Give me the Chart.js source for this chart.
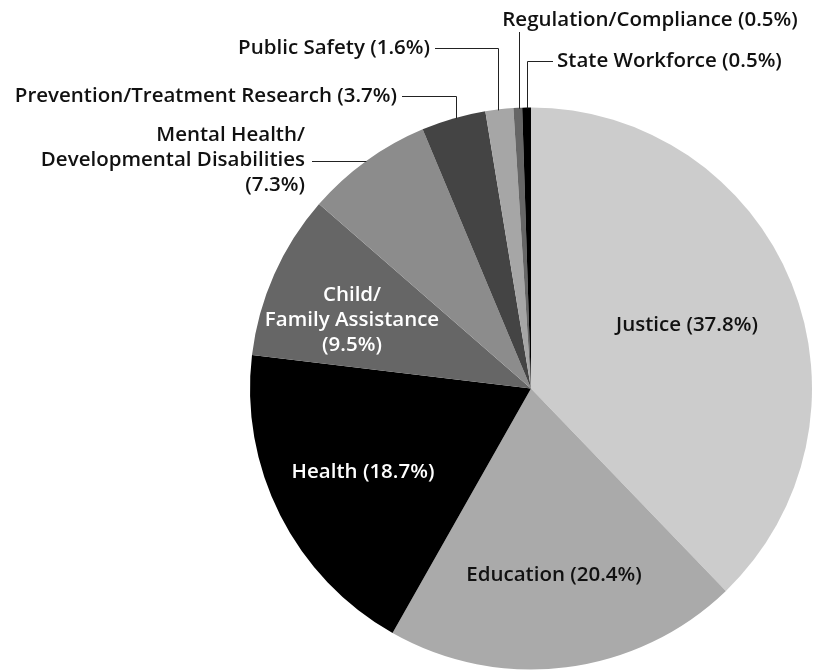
<!DOCTYPE html>
<html>
<head>
<meta charset="utf-8">
<script src="https://cdn.jsdelivr.net/npm/chart.js@4.4.0/dist/chart.umd.min.js"></script>
<style>
  html, body { margin: 0; padding: 0; background: #ffffff; }
  #wrap { width: 820px; height: 670px; position: relative; }
</style>
</head>
<body>
<div id="wrap"><canvas id="c" width="820" height="670"></canvas></div>
<script>
// ---- data ----
const categories = [
  'Justice', 'Education', 'Health', 'Child/Family Assistance',
  'Mental Health/Developmental Disabilities', 'Prevention/Treatment Research',
  'Public Safety', 'Regulation/Compliance', 'State Workforce'
];
const shares = [37.8, 20.4, 18.7, 9.5, 7.3, 3.7, 1.6, 0.5, 0.5];
const sliceColors = ['#cccccc', '#aaaaaa', '#000000', '#666666', '#8c8c8c', '#444444', '#a6a6a6', '#666666', '#000000'];
const labelLines = [
  ['Justice (37.8%)'],
  ['Education (20.4%)'],
  ['Health (18.7%)'],
  ['Child/', 'Family Assistance', '(9.5%)'],
  ['Mental Health/', 'Developmental Disabilities', '(7.3%)'],
  ['Prevention/Treatment Research (3.7%)'],
  ['Public Safety (1.6%)'],
  ['Regulation/Compliance (0.5%)'],
  ['State Workforce (0.5%)']
];

// ---- label placement (styles/positions, not data) ----
const FONT = '600 20.5px "Open Sans", "Liberation Sans", sans-serif';
const LINE_H = 25;
const labelSpecs = [
  { kind: 'inside', x: 687, y: 325, color: '#111' },
  { kind: 'inside', x: 554, y: 575, color: '#111' },
  { kind: 'inside', x: 363, y: 472, color: '#fff' },
  { kind: 'inside', x: 352, y: 295, color: '#fff' },
  { kind: 'outside', align: 'right', x: 305, y: 135, leader: 'horizontal', ly: 161 },
  { kind: 'outside', align: 'right', x: 397, y: 96, leader: 'elbow', lx: 456 },
  { kind: 'outside', align: 'right', x: 430, y: 48, leader: 'elbow', lx: 498 },
  { kind: 'outside', align: 'center', x: 650, y: 20, leader: 'vertical', lx: 519 },
  { kind: 'outside', align: 'left', x: 557, y: 61, leader: 'elbowRight', lx: 527 }
];

const labelPlugin = {
  id: 'pieLabels',
  afterDatasetsDraw(chart) {
    const ctx = chart.ctx;
    const meta = chart.getDatasetMeta(0);
    ctx.save();
    ctx.font = FONT;
    ctx.textBaseline = 'middle';
    meta.data.forEach((arc, i) => {
      const spec = labelSpecs[i];
      const lines = labelLines[i];
      const p = arc.getProps(['x', 'y', 'outerRadius'], true);
      if (spec.kind === 'inside') {
        ctx.fillStyle = spec.color;
        ctx.textAlign = 'center';
        lines.forEach((t, k) => ctx.fillText(t, spec.x, spec.y + k * LINE_H));
        return;
      }
      ctx.fillStyle = '#111';
      ctx.textAlign = spec.align;
      lines.forEach((t, k) => ctx.fillText(t, spec.x, spec.y + k * LINE_H));
      // leader line meeting the pie rim (rim point derived from arc geometry)
      const r = p.outerRadius;
      ctx.strokeStyle = '#222';
      ctx.lineWidth = 1;
      ctx.beginPath();
      if (spec.leader === 'horizontal') {
        const ly = spec.ly + 0.5;
        const ex = p.x - Math.sqrt(r * r - (ly - p.y) * (ly - p.y));
        ctx.moveTo(ex + 1, ly);
        ctx.lineTo(spec.x + 7, ly);
      } else {
        const vx = spec.lx + 0.5;
        const ey = p.y - Math.sqrt(r * r - (vx - p.x) * (vx - p.x));
        ctx.moveTo(vx, ey + 1);
        if (spec.leader === 'elbow') {
          const ly = Math.round(spec.y) + 0.5;
          ctx.lineTo(vx, ly);
          ctx.lineTo(spec.x + 5, ly);
        } else if (spec.leader === 'elbowRight') {
          const ly = Math.round(spec.y) + 0.5;
          ctx.lineTo(vx, ly);
          ctx.lineTo(spec.x - 4, ly);
        } else {
          ctx.lineTo(vx, spec.y + 12);
        }
      }
      ctx.stroke();
    });
    ctx.restore();
  }
};

new Chart(document.getElementById('c'), {
  type: 'pie',
  data: {
    labels: categories,
    datasets: [{
      data: shares,
      backgroundColor: sliceColors,
      borderWidth: 0,
      hoverOffset: 0
    }]
  },
  options: {
    responsive: false,
    animation: false,
    layout: { padding: { top: 107, bottom: 0, left: 250, right: 8 } },
    plugins: {
      legend: { display: false },
      tooltip: { enabled: false },
      title: { display: false }
    }
  },
  plugins: [labelPlugin]
});
</script>
</body>
</html>
